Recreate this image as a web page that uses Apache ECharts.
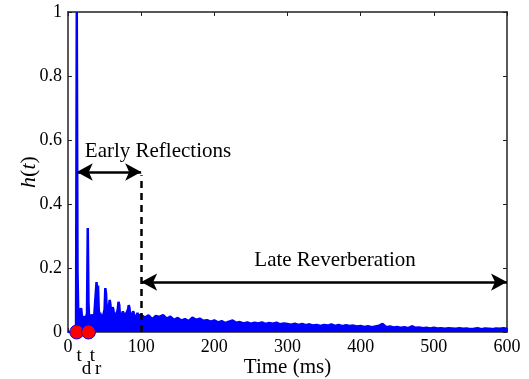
<!DOCTYPE html>
<html>
<head>
<meta charset="utf-8">
<title>h(t)</title>
<script src="https://cdn.jsdelivr.net/npm/echarts@6/dist/echarts.min.js"></script>
<style>
  html, body { margin: 0; padding: 0; background: #fff; }
  #main { width: 529px; height: 379px; }
</style>
</head>
<body>
<div id="main"></div>
<script>
// impulse response, time in ms
var timeMs = [
  0, 10, 11, 12, 13, 14, 15, 16, 17, 18,
  19, 20, 21, 22, 23, 24, 25, 26, 27, 28,
  29, 30, 31, 32, 33, 34, 35, 36, 37, 38,
  39, 40, 41, 42, 43, 44, 45, 46, 47, 48,
  49, 50, 51, 52, 53, 54, 55, 56, 57, 58,
  59, 60, 61, 62, 63, 64, 65, 66, 67, 68,
  69, 70, 71, 72, 73, 74, 75, 76, 77, 78,
  79, 80, 81, 82, 83, 84, 85, 86, 87, 88,
  89, 90, 91, 92, 93, 94, 95, 96, 97, 98,
  99,
  100, 105, 110, 115, 120, 125, 130, 135, 140, 145,
  150, 155, 160, 165, 170, 175, 180, 185, 190, 195,
  200, 205, 210, 215, 220, 225, 230, 235, 240, 245,
  250, 255, 260, 265, 270, 275, 280, 285, 290, 295,
  300, 305, 310, 315, 320, 325, 330, 335, 340, 345,
  350, 355, 360, 365, 370, 375, 380, 385, 390, 395,
  400, 405, 410, 415, 420, 425, 430, 435, 440, 445,
  450, 455, 460, 465, 470, 475, 480, 485, 490, 495,
  500, 505, 510, 515, 520, 525, 530, 535, 540, 545,
  550, 555, 560, 565, 570, 575, 580, 585, 590, 595,
  600
];
var amplitude = [
  0, 0, 0.01, 1.0, 0.19, 0.06, 0.075, 0.045, 0.06, 0.075,
  0.05, 0.045, 0.055, 0.04, 0.05, 0.035, 0.045, 0.06, 0.325, 0.09,
  0.035, 0.05, 0.04, 0.055, 0.045, 0.05, 0.04, 0.055, 0.05, 0.06,
  0.156, 0.12, 0.145, 0.07, 0.05, 0.06, 0.045, 0.055, 0.04, 0.05,
  0.06, 0.07, 0.137, 0.12, 0.06, 0.05, 0.065, 0.07, 0.1, 0.085,
  0.05, 0.06, 0.078, 0.07, 0.05, 0.06, 0.045, 0.055, 0.06, 0.07,
  0.094, 0.085, 0.05, 0.06, 0.045, 0.055, 0.065, 0.05, 0.06, 0.045,
  0.055, 0.05, 0.06, 0.07, 0.084, 0.075, 0.05, 0.06, 0.045, 0.055,
  0.065, 0.06, 0.05, 0.045, 0.055, 0.05, 0.06, 0.045, 0.05, 0.04,
  0.055,
  0.055, 0.045, 0.052, 0.04, 0.05, 0.047, 0.053, 0.042, 0.048, 0.038,
  0.044, 0.036, 0.04, 0.034, 0.045, 0.038, 0.042, 0.035, 0.037, 0.032,
  0.036, 0.03, 0.034, 0.028, 0.032, 0.036, 0.029, 0.031, 0.027, 0.03,
  0.026, 0.029, 0.027, 0.03, 0.025, 0.028, 0.026, 0.029, 0.024, 0.027,
  0.025, 0.023, 0.026, 0.022, 0.025, 0.021, 0.024, 0.02, 0.022, 0.019,
  0.022, 0.02, 0.024, 0.019, 0.022, 0.018, 0.021, 0.019, 0.02, 0.017,
  0.019, 0.016, 0.018, 0.015, 0.017, 0.02, 0.025, 0.015, 0.017, 0.014,
  0.016, 0.013, 0.015, 0.012, 0.018, 0.013, 0.014, 0.012, 0.013, 0.011,
  0.013, 0.011, 0.012, 0.01, 0.012, 0.011, 0.01, 0.012, 0.01, 0.011,
  0.009, 0.01, 0.012, 0.009, 0.011, 0.01, 0.009, 0.011, 0.01, 0.012,
  0.01
];

// t_d and t_r markers
var markerTimes = [12, 28];
var markerNames = ['d', 'r'];

var serif = '"Liberation Serif", "DejaVu Serif", serif';

var impulse = [];
for (var i = 0; i < timeMs.length; i++) {
  impulse.push([timeMs[i], amplitude[i]]);
}
var markers = [];
for (var j = 0; j < markerTimes.length; j++) {
  markers.push({ value: [markerTimes[j], 0], name: markerNames[j] });
}

var axisLine = { show: true, onZero: false, lineStyle: { color: '#222', width: 1.5 } };
var axisTick = { show: true, inside: true, length: 4, lineStyle: { color: '#222', width: 1 } };

var chart = echarts.init(document.getElementById('main'));
var option = {
  animation: false,
  grid: { left: 68, right: 22, top: 12, bottom: 47, outerBoundsMode: 'none', containLabel: false },
  xAxis: [
    {
      type: 'value', min: 0, max: 600, interval: 100, position: 'bottom',
      name: 'Time (ms)', nameLocation: 'middle', nameGap: 25, nameMoveOverlap: false,
      nameTextStyle: { fontFamily: serif, fontSize: 21, color: '#000' },
      axisLine: axisLine, axisTick: axisTick,
      axisLabel: { fontFamily: serif, fontSize: 18, color: '#000', margin: 6 },
      splitLine: { show: false }
    },
    {
      type: 'value', min: 0, max: 600, interval: 100, position: 'top',
      axisLine: axisLine, axisTick: axisTick,
      axisLabel: { show: false }, splitLine: { show: false }
    }
  ],
  yAxis: [
    {
      type: 'value', min: 0, max: 1, interval: 0.2, position: 'left',
      name: '{i|h}({i|t})', nameLocation: 'middle', nameGap: 28, nameMoveOverlap: false,
      nameTextStyle: {
        fontFamily: serif, fontSize: 22, color: '#000',
        rich: { i: { fontFamily: serif, fontSize: 22, fontStyle: 'italic', color: '#000' } }
      },
      axisLine: axisLine, axisTick: axisTick,
      axisLabel: { fontFamily: serif, fontSize: 18, color: '#000', margin: 6 },
      splitLine: { show: false }
    },
    {
      type: 'value', min: 0, max: 1, interval: 0.2, position: 'right',
      axisLine: axisLine, axisTick: axisTick,
      axisLabel: { show: false }, splitLine: { show: false }
    }
  ],
  series: [
    {
      name: 'h(t)', type: 'line', data: impulse,
      showSymbol: false, clip: true, z: 2,
      lineStyle: { color: '#0000ff', width: 2.5 },
      areaStyle: { color: '#0000ff', opacity: 1 }
    },
    {
      // arrows, dashed divider and text
      type: 'line', data: [], z: 4,
      markLine: {
        silent: true, animation: false,
        symbolSize: [13, 16],
        label: { show: false },
        lineStyle: { color: '#000', width: 2.5, type: 'solid' },
        data: [
          [{ coord: [12, 0.5], symbol: 'arrow' }, { coord: [100, 0.5], symbol: 'arrow' }],
          [{ coord: [100, 0.156], symbol: 'arrow' }, { coord: [600, 0.156], symbol: 'arrow' }],
          [{ coord: [100, 0], symbol: 'none', lineStyle: { type: [7, 5], width: 2.5, color: '#000' } },
           { coord: [100, 0.49], symbol: 'none' }]
        ]
      },
      markPoint: {
        silent: true, symbol: 'circle', symbolSize: 1,
        itemStyle: { color: 'rgba(0,0,0,0)' },
        label: { show: true, position: 'inside', fontFamily: serif, fontSize: 21, color: '#000' },
        data: [
          { coord: [123, 0.565], value: 'Early Reflections', label: { formatter: 'Early Reflections' } },
          { coord: [365, 0.222], value: 'Late Reverberation', label: { formatter: 'Late Reverberation' } }
        ]
      }
    },
    {
      type: 'scatter', data: markers, symbolSize: 14, clip: false, z: 5,
      itemStyle: { color: '#ff0000', borderColor: '#0000ff', borderWidth: 1, opacity: 1 },
      label: {
        show: true, position: 'bottom', distance: 3, offset: [7, 4],
        formatter: function (p) { return '{t|t}{s|' + p.name + '}'; },
        rich: {
          t: { fontFamily: serif, fontSize: 19, color: '#000', lineHeight: 32, verticalAlign: 'top' },
          s: { fontFamily: serif, fontSize: 19, color: '#000', lineHeight: 32, verticalAlign: 'bottom' }
        }
      }
    }
  ]
};
chart.setOption(option);
</script>
</body>
</html>
